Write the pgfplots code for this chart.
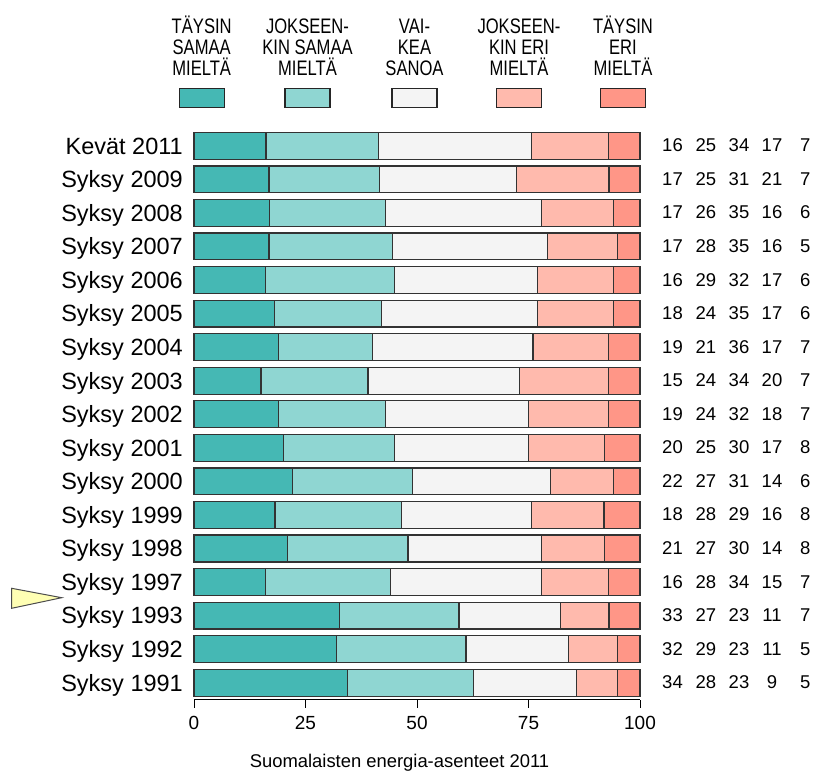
\documentclass[border=0pt]{standalone}
\usepackage{pgfplots}
\pgfplotsset{compat=1.18}
\usepackage{pgfplotstable}
\usepackage{fontspec}
\setmainfont{Liberation Sans}
\definecolor{c1}{RGB}{69,184,180}
\definecolor{c2}{RGB}{143,214,210}
\definecolor{c3}{RGB}{244,244,244}
\definecolor{c4}{RGB}{255,186,173}
\definecolor{c5}{RGB}{255,150,135}
\definecolor{tri}{RGB}{255,255,180}
\pgfplotstableread{
y a b c d e
16 16.16 25.25 34.34 17.17 7.07
15 16.83 24.75 30.69 20.79 6.93
14 17 26 35 16 6
13 16.83 27.72 34.65 15.84 4.95
12 16 29 32 17 6
11 18 24 35 17 6
10 19 21 36 17 7
9 15 24 34 20 7
8 19 24 32 18 7
7 20 25 30 17 8
6 22 27 31 14 6
5 18.18 28.28 29.29 16.16 8.08
4 21 27 30 14 8
3 16 28 34 15 7
2 32.67 26.73 22.77 10.89 6.93
1 32 29 23 11 5
0 34.34 28.28 23.23 9.09 5.05
}\data
\begin{document}
\begin{tikzpicture}[x=1pt,y=1pt]
\useasboundingbox (0,0) rectangle (817,772);
\begin{axis}[
  at={(194pt,72.5pt)}, anchor=south west,
  width=446pt, height=570.5pt, scale only axis,
  xmin=0, xmax=100, ymin=-0.5, ymax=16.5,
  xbar stacked, bar width=0.8,
  axis x line*=bottom, axis y line=none,
  xtick={0,25,50,75,100}, ytick=\empty,
  tick align=outside, major tick length=8pt,
  x axis line style={line width=1pt, black},
  xtick style={line width=1pt, black},
  xticklabel style={font=\fontsize{19}{20}\selectfont, yshift=-5pt},
  /pgf/number format/assume math mode=true,
  clip=false,
  every axis plot/.append style={draw=black!80, line width=1.2pt},
]
\addplot[fill=c1] table[x=a,y=y]{\data};
\addplot[fill=c2] table[x=b,y=y]{\data};
\addplot[fill=c3] table[x=c,y=y]{\data};
\addplot[fill=c4] table[x=d,y=y]{\data};
\addplot[fill=c5] table[x=e,y=y]{\data};
\end{axis}
% row labels
\foreach \k/\lab in {0/Kevät 2011,1/Syksy 2009,2/Syksy 2008,3/Syksy 2007,4/Syksy 2006,5/Syksy 2005,6/Syksy 2004,7/Syksy 2003,8/Syksy 2002,9/Syksy 2001,10/Syksy 2000,11/Syksy 1999,12/Syksy 1998,13/Syksy 1997,14/Syksy 1993,15/Syksy 1992,16/Syksy 1991}{
  \node[anchor=base east, inner sep=0pt, font=\fontsize{23.5}{26}\selectfont] at (183,{772-145.8-\k*33.56-8.3}) {\lab};
}
% right numbers
\foreach \k/\a/\b/\c/\d/\e in {0/16/25/34/17/7,1/17/25/31/21/7,2/17/26/35/16/6,3/17/28/35/16/5,4/16/29/32/17/6,5/18/24/35/17/6,6/19/21/36/17/7,7/15/24/34/20/7,8/19/24/32/18/7,9/20/25/30/17/8,10/22/27/31/14/6,11/18/28/29/16/8,12/21/27/30/14/8,13/16/28/34/15/7,14/33/27/23/11/7,15/32/29/23/11/5,16/34/28/23/9/5}{
  \pgfmathsetmacro\yy{772-145.8-\k*33.56-6}
  \foreach \xx/\v in {672.5/\a,705.8/\b,739/\c,772/\d,805.3/\e}{
    \node[anchor=base, inner sep=0pt, font=\fontsize{18.5}{20}\selectfont] at (\xx,\yy) {\v};
  }
}
% legend
\foreach \cx/\la/\lb/\lc/\col in {201.7/TÄYSIN/SAMAA/MIELTÄ/c1, 307.5/JOKSEEN-/KIN SAMAA/MIELTÄ/c2, 414.5/VAI-/KEA/SANOA/c3, 519/JOKSEEN-/KIN ERI/MIELTÄ/c4, 623/TÄYSIN/ERI/MIELTÄ/c5}{
  \node[anchor=base, inner sep=0pt, font=\fontsize{21}{24}\selectfont] at (\cx,{772-33.3}) {\scalebox{0.79}[1]{\la}};
  \node[anchor=base, inner sep=0pt, font=\fontsize{21}{24}\selectfont] at (\cx,{772-55}) {\scalebox{0.79}[1]{\lb}};
  \node[anchor=base, inner sep=0pt, font=\fontsize{21}{24}\selectfont] at (\cx,{772-76}) {\scalebox{0.79}[1]{\lc}};
  \filldraw[fill=\col, draw=black!85, line width=1.1pt] (\cx-22.5,{772-88.5}) rectangle (\cx+22.5,{772-107.5});
}
% triangle marker
\filldraw[fill=tri, draw=black!70, line width=1pt] (11.7,183.7) -- (61.7,174.3) -- (11.7,163.7) -- cycle;
% title
\node[anchor=base, inner sep=0pt, font=\fontsize{18.4}{20}\selectfont] at (399.5,4.3) {Suomalaisten energia-asenteet 2011};
\end{tikzpicture}
\end{document}
